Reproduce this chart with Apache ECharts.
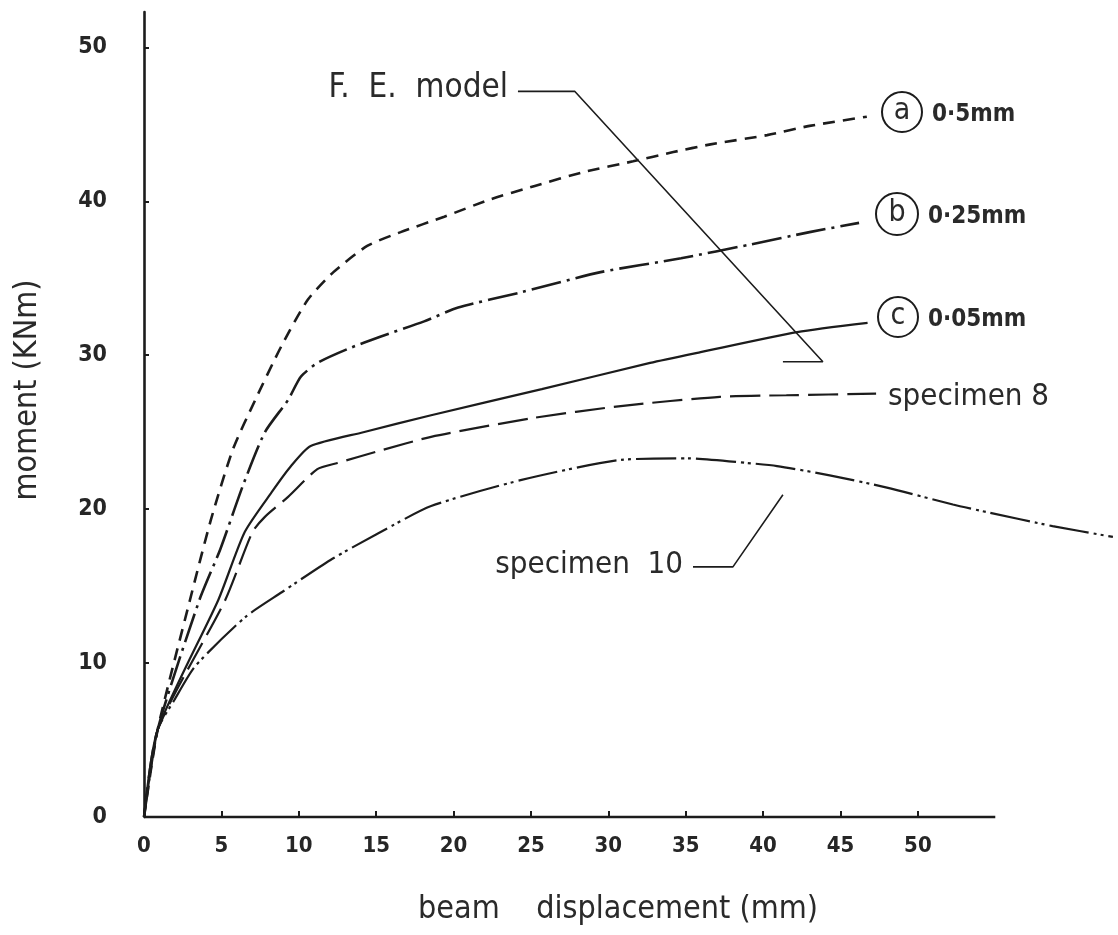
<!DOCTYPE html>
<html>
<head>
<meta charset="utf-8">
<title>Moment vs beam displacement</title>
<script src="https://cdn.jsdelivr.net/npm/echarts@6.0.0/dist/echarts.min.js"></script>
<style>
  html, body { margin: 0; padding: 0; background: #ffffff; }
  #chart { width: 1118px; height: 935px; }
</style>
</head>
<body>
<div id="chart"></div>
<script>
// Tick labels
const xTicks = [0, 5, 10, 15, 20, 25, 30, 35, 40, 45, 50];
const yTicks = [0, 10, 20, 30, 40, 50];
// Drawn length of the displacement axis (mm)
const xAxisEnd = 55;

// [beam displacement (mm), moment (kNm)]
// F.E. model, gap (a) 0.5 mm
const feA = [[0, 0], [0.88, 5.66], [2.97, 14.1], [4.32, 19.3], [5.75, 23.9], [7.19, 27.1],
  [8.88, 30.6], [10.58, 33.6], [12.24, 35.4], [14.42, 37.1], [16.58, 38.0], [19.4, 39.0],
  [22.3, 40.1], [25.25, 41.0], [28.4, 41.9], [31.6, 42.6], [34.2, 43.2], [36.6, 43.7],
  [40.26, 44.3], [43.0, 44.9], [46.7, 45.5]];
// F.E. model, gap (b) 0.25 mm
const feB = [[0, 0], [0.88, 5.66], [3.58, 14.1], [4.93, 17.4], [6.38, 21.5], [7.81, 25.0],
  [9.31, 27.1], [10.13, 28.6], [11.2, 29.5], [13.14, 30.4], [15.26, 31.2], [18.1, 32.2],
  [20.3, 33.1], [24.4, 34.1], [29.5, 35.4], [34.7, 36.3], [39.2, 37.2], [43.0, 38.0],
  [46.2, 38.6]];
// F.E. model, gap (c) 0.05 mm
const feC = [[0, 0], [0.88, 5.66], [4.8, 14.1], [6.5, 18.5], [8.25, 21.1], [9.5, 22.8],
  [10.77, 24.1], [14.17, 25.0], [18.55, 26.1], [25.7, 27.8], [32.7, 29.5], [35.96, 30.2],
  [42.2, 31.5], [46.75, 32.1]];
// Test, specimen 8
const specimen8 = [[0, 0], [0.88, 5.66], [5.25, 14.1], [7.0, 18.5], [7.81, 19.5], [9.31, 20.8],
  [11.2, 22.6], [12.5, 23.0], [15.26, 23.8], [18.55, 24.7], [25.0, 25.9], [30.8, 26.7],
  [37.2, 27.3], [41.5, 27.4], [47.3, 27.5]];
// Test, specimen 10
const specimen10 = [[0, 0], [0.88, 5.66], [1.96, 7.6], [3.31, 9.8], [6.56, 13.0], [8.9, 14.6],
  [12.05, 16.7], [15.26, 18.5], [18.55, 20.2], [24.4, 21.9], [30.8, 23.2], [35.1, 23.3],
  [38.97, 23.0], [40.9, 22.8], [44.3, 22.2], [48.0, 21.4], [52.26, 20.3], [54.5, 19.8],
  [58.7, 18.9], [62.6, 18.2]];

// Leader lines for the captions, in axis units
const feLeader = [[24.16, 47.14], [27.84, 47.14], [43.86, 29.58], [41.28, 29.58]];
const spec10Leader = [[35.47, 16.25], [38.05, 16.25], [41.28, 20.94]];

const INK = '#1c1c1c';
const LETTERING = "'DejaVu Sans Condensed', 'Liberation Sans Narrow', 'DejaVu Sans', sans-serif";

function curve(name, data, type, width) {
  return {
    name: name,
    type: 'line',
    data: data,
    showSymbol: false,
    symbol: 'none',
    smooth: 0.22,
    clip: false,
    silent: true,
    lineStyle: { color: INK, width: width, type: type, cap: 'butt' }
  };
}

function straight(data, width) {
  return {
    type: 'line',
    data: data,
    showSymbol: false,
    symbol: 'none',
    smooth: false,
    clip: false,
    silent: true,
    lineStyle: { color: INK, width: width, type: 'solid' }
  };
}

function caption(text, x, y, align, size, weight) {
  return {
    type: 'text', x: x, y: y, z: 10,
    style: {
      text: text, fill: '#2a2a2a', align: align, verticalAlign: 'middle',
      font: (weight || 'normal') + ' ' + size + 'px ' + LETTERING
    }
  };
}

function circled(letter, cx, cy, r, value) {
  return [
    { type: 'circle', shape: { cx: cx, cy: cy, r: r }, z: 10,
      style: { fill: 'none', stroke: INK, lineWidth: 2 } },
    caption(letter, cx, cy - 1, 'center', 30),
    caption(value, cx + r + 10, cy + 3, 'left', 24, 'bold')
  ];
}

const chart = echarts.init(document.getElementById('chart'), null, { renderer: 'canvas' });

chart.setOption({
  backgroundColor: '#ffffff',
  animation: false,
  grid: { left: 144, right: 2, top: 12, bottom: 118, containLabel: false },
  xAxis: {
    type: 'value', min: 0, max: 62.8, interval: 5,
    axisLine: { show: false },
    axisTick: { show: true, inside: true, length: 6, customValues: xTicks,
      lineStyle: { color: INK, width: 2 } },
    axisLabel: { customValues: xTicks, margin: 18, color: '#262626',
      fontFamily: LETTERING, fontWeight: 'bold', fontSize: 22 },
    splitLine: { show: false }
  },
  yAxis: {
    type: 'value', min: 0, max: 52.3, interval: 10,
    axisLine: { show: true, lineStyle: { color: INK, width: 2.6 } },
    axisTick: { show: true, inside: true, length: 5, customValues: yTicks,
      lineStyle: { color: INK, width: 2 } },
    axisLabel: { customValues: yTicks, margin: 37, color: '#262626',
      fontFamily: LETTERING, fontWeight: 'bold', fontSize: 23 },
    splitLine: { show: false }
  },
  series: [
    // displacement axis line, drawn only up to its end mark
    straight([[0, 0], [xAxisEnd, 0]], 2.6),
    curve('a 0·5mm', feA, [12, 8], 2.6),
    curve('b 0·25mm', feB, [30, 6, 3, 6], 2.6),
    curve('c 0·05mm', feC, 'solid', 2.2),
    curve('specimen 8', specimen8, [30, 9], 2.2),
    curve('specimen 10', specimen10, [40, 5, 3, 4, 3, 5], 2.2),
    straight(feLeader, 1.6),
    straight(spec10Leader, 1.6)
  ],
  graphic: [
    caption('moment (KNm)', 28, 390, 'center', 32),
    caption('beam    displacement (mm)', 418, 910, 'left', 32),
    caption('F.  E.  model', 508, 88, 'right', 33),
    caption('specimen 8', 888, 397, 'left', 31),
    caption('specimen  10', 683, 565, 'right', 31)
  ].concat(
    circled('a', 902, 112, 20, '0·5mm'),
    circled('b', 897, 214, 21, '0·25mm'),
    circled('c', 898, 317, 20, '0·05mm')
  )
});

// rotate the vertical axis title to read bottom-to-top
const opt = chart.getOption();
opt.graphic[0].elements[0].rotation = Math.PI / 2;
chart.setOption({ graphic: opt.graphic });
</script>
</body>
</html>
